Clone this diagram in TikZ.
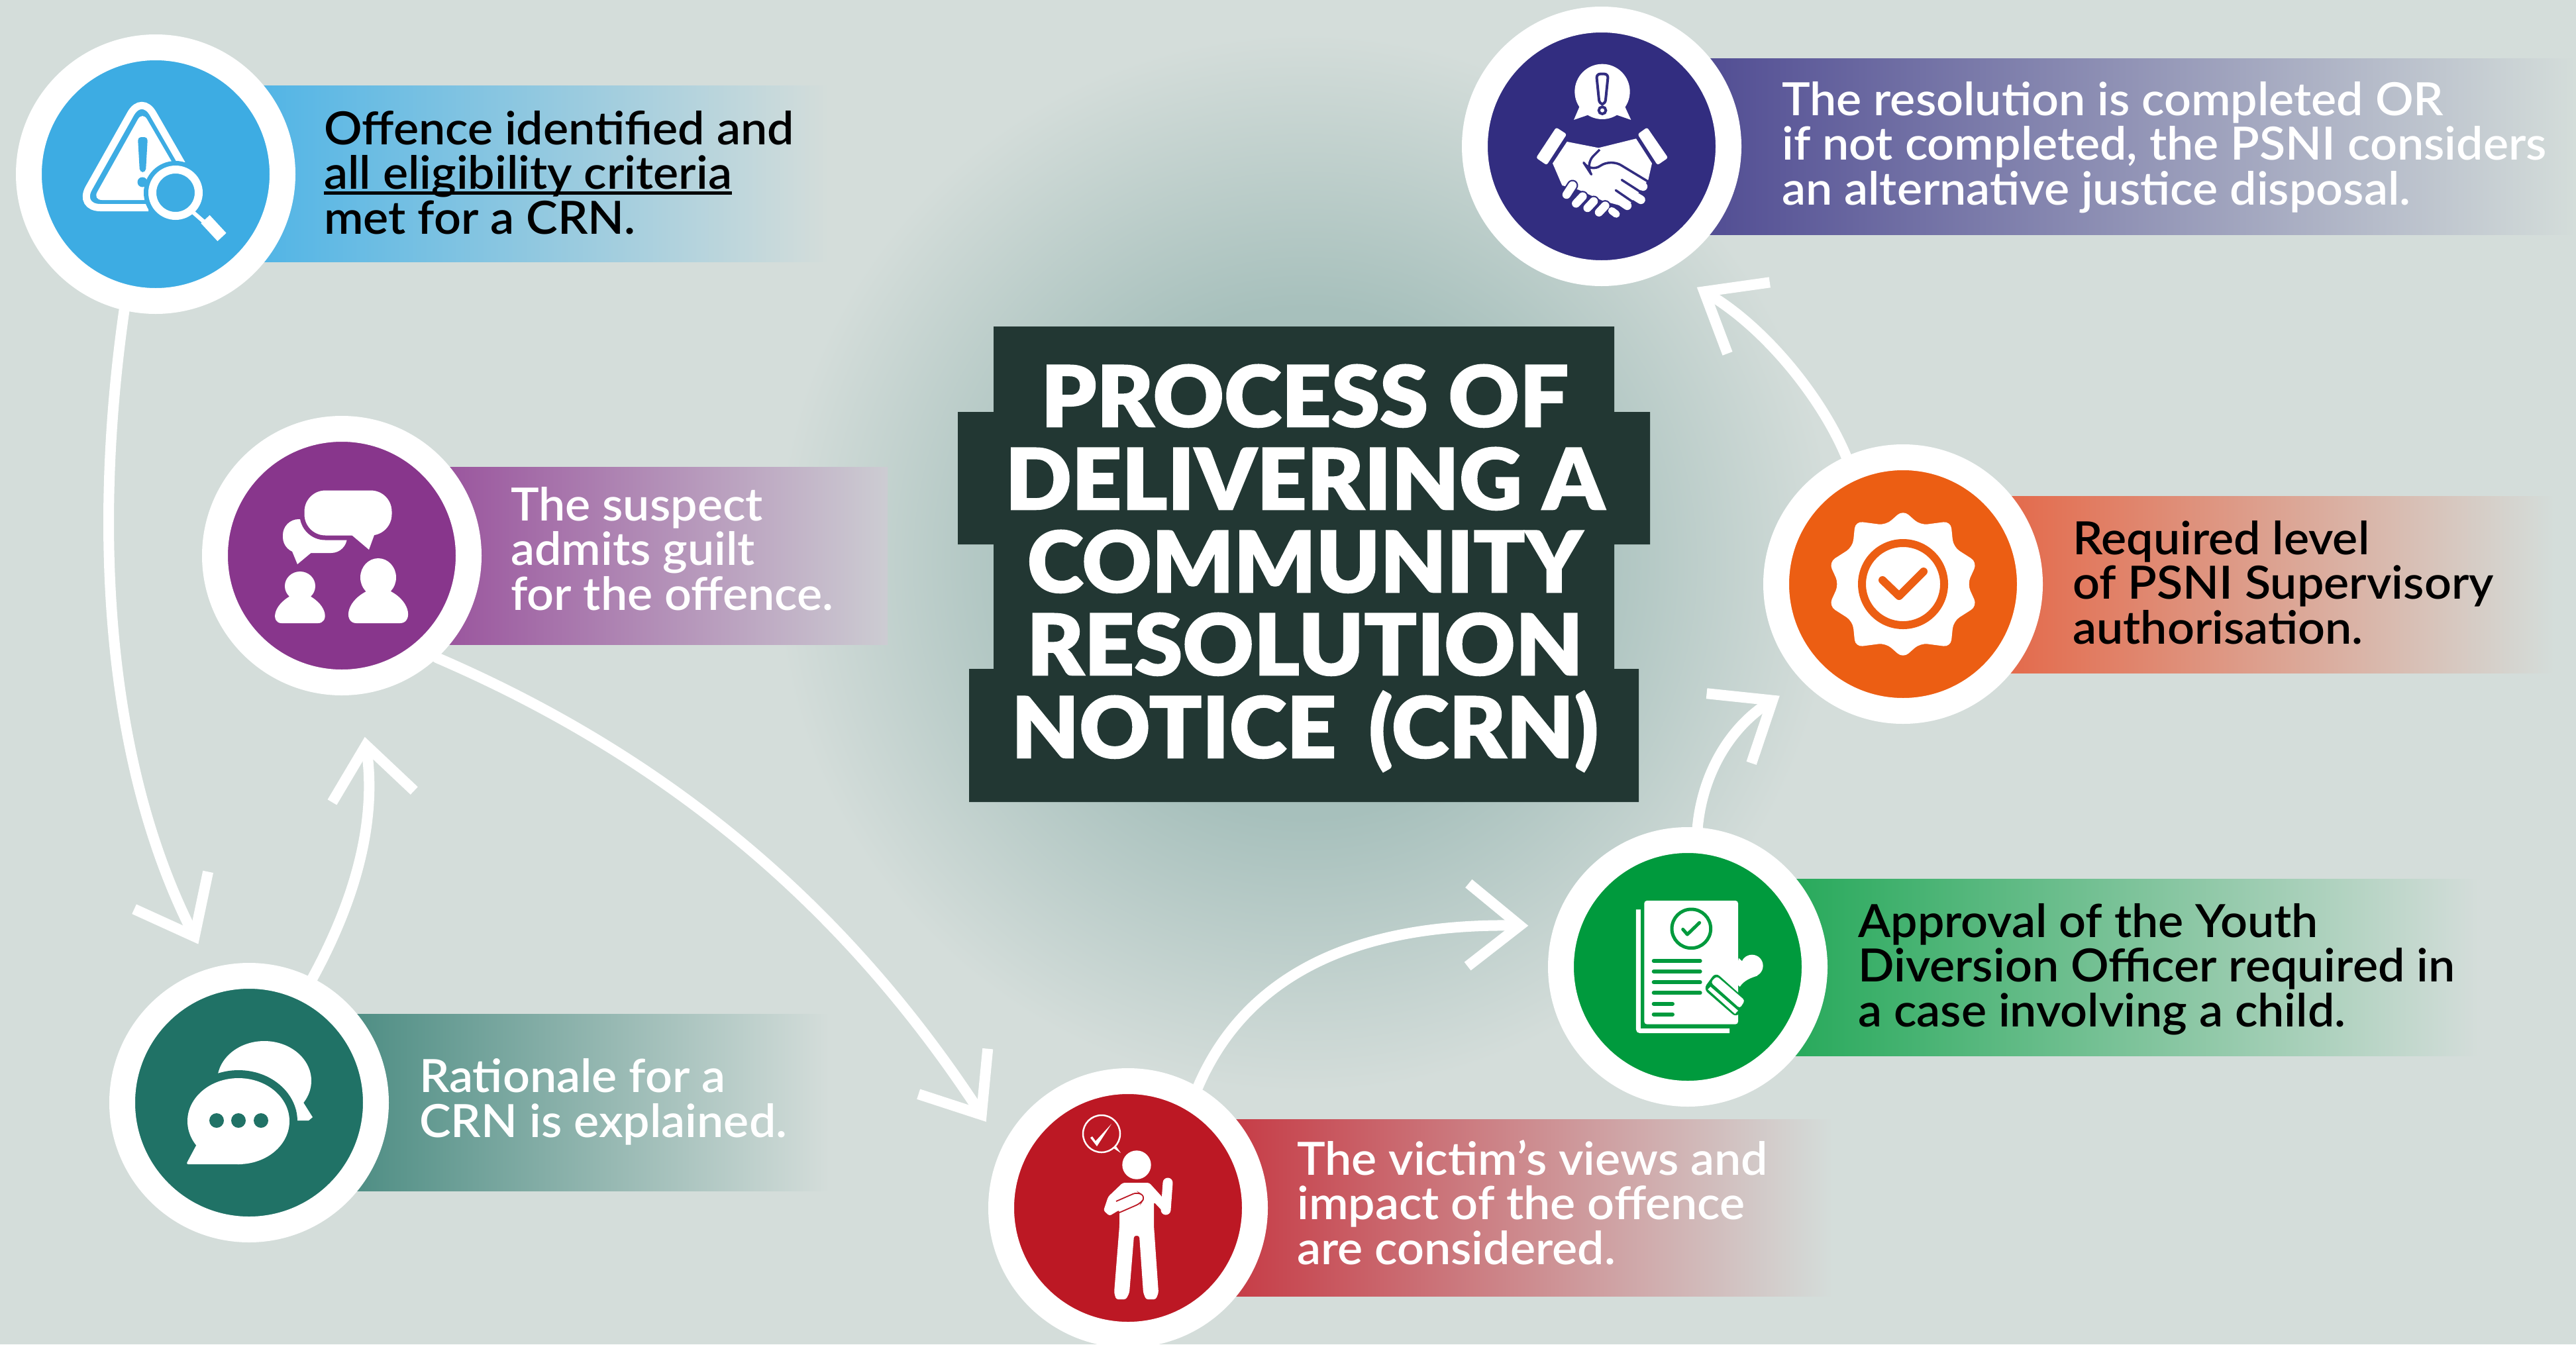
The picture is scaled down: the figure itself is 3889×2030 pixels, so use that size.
\documentclass[tikz,border=0pt]{standalone}
\usepackage{fontspec}
\usetikzlibrary{arrows.meta}
\setmainfont[FakeStretch=1.04,Ligatures=TeX]{Lato Semibold}
\newfontfamily\crntitle[BoldFont=*,FakeBold=1.2,FakeStretch=1.03]{Lato Black}
\definecolor{bgc}{HTML}{D4DDDA}
\definecolor{glowc}{HTML}{A7C0BC}
\definecolor{titlec}{HTML}{223733}
\definecolor{cblue}{HTML}{3DACE3}
\definecolor{cpurple}{HTML}{88368C}
\definecolor{cteal}{HTML}{207266}
\definecolor{cred}{HTML}{BC1824}
\definecolor{cgreen}{HTML}{009A3D}
\definecolor{corange}{HTML}{EC5E13}
\definecolor{cnavy}{HTML}{322D80}
\definecolor{rorange}{HTML}{E4694A}
\pgfdeclareradialshading{crnglow}{\pgfpoint{0bp}{0bp}}{color(0bp)=(glowc); color(12bp)=(glowc); color(25bp)=(bgc); color(50bp)=(bgc)}
\newcommand\crnul[1]{\setbox0\hbox{#1}\rlap{\rule[-8pt]{\wd0}{5pt}}\box0 }
\newcommand\crnribbon[6]{\shade[left color=#5,right color=#6,shading angle=90] (#1,#2) rectangle (#3,#4);}
\tikzset{
  stepcirc/.style={circle,draw=white,line width=39pt,minimum size=383pt,inner sep=0pt},
  flow/.style={draw=white,line width=16pt,line cap=round,-{Straight Barb[length=78pt,width=125pt,line width=16pt,line cap=butt,line join=miter]}},
  lab/.style={anchor=base west,inner sep=0pt,align=left,font=\fontsize{69}{67.5}\selectfont},
}
\begin{document}
\begin{tikzpicture}[x=1pt,y=-1pt]
\useasboundingbox (0,0) rectangle (3889,2030);
\fill[bgc] (0,0) rectangle (3889,2030);
\shade[shading=crnglow] (1970,850) circle[radius=800];
% title
\fill[titlec] (1500,493) -- (2437,493) -- (2437,622) -- (2491,622) -- (2491,822) -- (2437,822) -- (2437,1010) -- (2474,1010) -- (2474,1211) -- (1463,1211) -- (1463,1010) -- (1500,1010) -- (1500,822) -- (1446,822) -- (1446,622) -- (1500,622) -- cycle;
\node[anchor=center,inner sep=0pt,align=center,text=white,font=\fontsize{128}{125}\selectfont\crntitle\bfseries] (title) at (1970,858)
  {PROCESS OF\\DELIVERING A\\\scalebox{0.98}[1]{COMMUNITY}\hspace*{60pt}\\RESOLUTION\\NOTICE\hspace{18pt} (CRN)};
% ribbons
\crnribbon{385}{129}{1252}{395}{cblue!90!white}{bgc}
\crnribbon{666}{705}{1340}{973}{cpurple!85!white}{bgc!90!cpurple}
\crnribbon{526}{1531}{1252}{1798}{cteal!75!bgc}{bgc}
\crnribbon{1853}{1690}{2766}{1957}{cred!85!white}{bgc}
\crnribbon{2698}{1327}{3742}{1594}{cgreen!85!white}{bgc}
\crnribbon{3023}{749}{3856}{1016}{rorange}{bgc}
\crnribbon{2568}{88}{3889}{354}{cnavy!85!white}{bgc}
% circles
\node[stepcirc,fill=cblue] (c1) at (235,263) {};
\node[stepcirc,fill=cpurple] (c2) at (516,839) {};
\node[stepcirc,fill=cteal] (c3) at (376,1665) {};
\node[stepcirc,fill=cred] (c4) at (1703,1824) {};
\node[stepcirc,fill=cgreen] (c5) at (2548,1460) {};
\node[stepcirc,fill=corange] (c6) at (2873,882) {};
\node[stepcirc,fill=cnavy] (c7) at (2418,221) {};
% connectors
\draw[flow,shorten >=41pt] (c1.257) .. controls (140,800) and (160,1150) .. (c3.106);
\draw[flow,shorten >=65pt] (c3.63) .. controls (530,1370) and (570,1250) .. (c2.277);
\draw[flow,shorten >=45pt] (c2.-47) .. controls (1000,1140) and (1270,1360) .. (c4.154);
\draw[flow,shorten >=39pt] (c4.60) .. controls (1895,1440) and (2100,1395) .. (c5.163);
\draw[flow,shorten >=41pt] (c5.86) .. controls (2570,1170) and (2610,1100) .. (c6.224);
\draw[flow,shorten >=52pt] (c6.114) .. controls (2750,600) and (2665,495) .. (c7.-62);
% labels
\node[lab,text=black] (t1) at (489,353) {Offence identified and\\\crnul{all eligibility criteria}\\met for a CRN.};
\node[lab,text=white] (t2) at (771,921) {The suspect\\admits guilt\\for the offence.};
\node[lab,text=white] (t3) at (633,1717) {Rationale for a\\CRN is explained.};
\node[lab,text=white] (t4) at (1958,1909) {The victim’s views and\\impact of the offence\\are considered.};
\node[lab,text=black] (t5) at (2805,1550) {Approval of the Youth\\Diversion Officer required in\\a case involving a child.};
\node[lab,text=black] (t6) at (3129,972) {Required level\\of PSNI Supervisory\\authorisation.};
\node[lab,text=white] (t7) at (2690,309) {The resolution is completed OR\\if not completed, the PSNI considers\\an alternative justice disposal.};
% icon 1: warning + magnifier
\draw[white,line width=11pt,rounded corners=34pt] (275,248) -- (214,142) -- (117.5,313.5) -- (224,313.5);
\fill[white,rounded corners=14pt] (215,168) -- (140,302) -- (293,302) -- cycle;
\fill[cblue,rounded corners=5pt] (208,207) -- (223,207) -- (220,260) -- (211,260) -- cycle;
\fill[cblue] (215,275) circle[radius=7.5];
\fill[cblue] (265,291) circle[radius=48];
\draw[white,line width=12pt] (265,291) circle[radius=35];
\draw[white,line width=6pt] (292,321) -- (308,335);
\draw[white,line width=18pt,rounded corners=2pt] (310,331) -- (335,358);
% icon 2: bubbles + people
\fill[white,rounded corners=24pt] (427,784) rectangle (524,835);
\fill[white] (440,830) -- (449,852) -- (473,832) -- cycle;
\draw[cpurple,fill=white,line width=7pt,rounded corners=35pt] (456,737) rectangle (595,812);
\fill[white] (531,808) -- (557,830) -- (565,808) -- cycle;
\fill[white] (453,885) ellipse[x radius=23,y radius=22];
\fill[white] (425,941) .. controls (410,941) and (410,915) .. (440,899) -- (466,899) .. controls (496,915) and (496,941) .. (480,941) -- cycle;
\fill[white] (571,872) ellipse[x radius=27,y radius=29];
\fill[white] (538,941) .. controls (520,941) and (520,910) .. (553,893) -- (590,893) .. controls (622,910) and (622,941) .. (604,941) -- cycle;
% icon 3: chat
\fill[white] (399,1632) ellipse[x radius=71,y radius=60];
\fill[white] (455,1660) -- (472,1687) -- (466,1692) -- (440,1692) -- cycle;
\fill[cteal] (360,1693) ellipse[x radius=89,y radius=77];
\fill[white] (360,1693) ellipse[x radius=77,y radius=65];
\fill[white,rounded corners=3pt] (297,1728) -- (281,1758) -- (368,1758) -- (350,1700) -- cycle;
\fill[cteal] (327,1692) circle[radius=11] (360,1692) circle[radius=11] (394,1692) circle[radius=11];
% icon 4: person
\draw[white,line width=2.5pt] (1663,1712) circle[radius=28];
\fill[white] (1680,1733) -- (1692,1741) -- (1685,1731) -- cycle;
\fill[white] (1646,1718) -- (1649,1716) -- (1654,1723) -- (1678,1697) -- (1656,1731) -- cycle;
\fill[white] (1716,1759) circle[radius=21.7];
\draw[white,line width=15pt,line cap=round] (1763,1786) -- (1760,1827);
\fill[white,rounded corners=3pt] (1695,1786) -- (1735,1786) -- (1755,1808) -- (1758,1832) -- (1742,1815) -- (1742,1851) -- (1749,1952) -- (1745,1962) -- (1730,1962) -- (1726,1952) -- (1720,1866) -- (1712,1866) -- (1705,1952) -- (1700,1962) -- (1685,1962) -- (1682,1952) -- (1690,1851) -- (1690,1827) -- (1675,1836) -- (1666,1828) -- (1673,1807) -- cycle;
\draw[cred,line width=1.8pt,rounded corners=7pt] (1685,1814) -- (1717,1800) -- (1729,1807) -- (1722,1817) -- (1690,1831);
% icon 5: document + stamp
\begin{scope}[shift={(2450,1340)},x=0.3333pt,y=-0.3333pt]
\draw[white,line width=7pt,rounded corners=3pt] (70,100) -- (70,650) -- (483,650);
\fill[white,rounded corners=4pt] (97,60) rectangle (522,620);
\draw[cgreen,line width=5pt] (310,187) circle[radius=88];
\draw[cgreen,line width=5pt,line cap=round,line join=round] (272,190) -- (292,213) -- (347,160);
\foreach \yy in {333,381,430,478} {\draw[cgreen,line width=6pt,line cap=round] (140,\yy) -- (350,\yy);}
\foreach \yy in {527,575} {\draw[cgreen,line width=6pt,line cap=round] (140,\yy) -- (225,\yy);}
\fill[white] (585,355) circle[radius=50];
\fill[white] (525,320) .. controls (515,370) and (505,385) .. (487,412) -- (530,450) .. controls (550,420) and (580,410) .. (610,400) -- cycle;
\fill[cgreen,rounded corners=8pt] (420,385) -- (565,515) -- (515,590) -- (365,460) -- cycle;
\fill[white,rounded corners=4pt] (425,402) -- (553,512) -- (530,548) -- (398,430) -- cycle;
\fill[white] (385,462) -- (397,450) -- (522,558) -- (508,573) -- cycle;
\end{scope}
% icon 6: badge
\fill[white,rounded corners=11pt] (2873,770) -- (2899,793) -- (2945,787) -- (2949,826) -- (2985,849) -- (2970,882) -- (2985,915) -- (2949,938) -- (2945,977) -- (2899,971) -- (2873,994) -- (2847,971) -- (2801,977) -- (2797,938) -- (2761,915) -- (2776,882) -- (2761,849) -- (2797,826) -- (2801,787) -- (2847,793) -- cycle;
\draw[corange,line width=12pt] (2873,882) circle[radius=62];
\draw[corange,line width=12pt,line cap=round,line join=round] (2842,876) -- (2867,900) -- (2904,863);
% icon 7: handshake
\begin{scope}[shift={(2270,70)},x=0.3333pt,y=-0.3333pt]
\fill[white] (447,205) circle[radius=125];
\fill[white] (345,270) -- (318,333) -- (385,310) -- cycle (548,270) -- (577,333) -- (510,310) -- cycle;
\draw[cnavy,line width=4pt,fill=white,rounded corners=6pt] (420,125) -- (474,125) -- (460,262) -- (434,262) -- cycle;
\draw[cnavy,line width=4pt,fill=white] (447,290) circle[radius=16];
\fill[white,rounded corners=3pt] (238,367) -- (286,398) -- (195,538) -- (147,505) -- cycle;
\fill[white,rounded corners=3pt] (650,367) -- (607,398) -- (697,538) -- (745,505) -- cycle;
\fill[white] (287,432) -- (430,460) -- (600,418) -- (672,530) -- (655,605) -- (640,625) -- (560,730) -- (450,700) -- (340,650) -- (265,630) -- (222,530) -- cycle;
\foreach \xa/\ya/\xb/\yb in {530/570/632/635, 500/620/622/695, 470/660/560/722} {\draw[white,line width=13pt,line cap=round] (\xa,\ya) -- (\xb,\yb);}
\draw[cnavy,line width=3.5pt,line cap=round] (535,605) -- (630,666);
\draw[cnavy,line width=3.5pt,line cap=round] (508,652) -- (600,715);
\draw[cnavy,line width=3.5pt,line join=round,rounded corners=18pt] (435,468) -- (368,535) -- (392,572) -- (485,510) -- (655,613);
\foreach \xa/\ya/\xb/\yb in {312/630/285/672, 358/680/328/712, 408/702/380/732, 460/722/432/752} {\draw[cnavy,line width=17pt,line cap=round] (\xa,\ya) -- (\xb,\yb);}
\draw[white,line width=11pt,line cap=round] (490,745) -- (510,760);
\foreach \xa/\ya/\xb/\yb in {312/630/285/672, 358/680/328/712, 408/702/380/732, 460/722/432/752} {\draw[white,line width=12.5pt,line cap=round] (\xa,\ya) -- (\xb,\yb);}
\end{scope}
\end{tikzpicture}
\end{document}
